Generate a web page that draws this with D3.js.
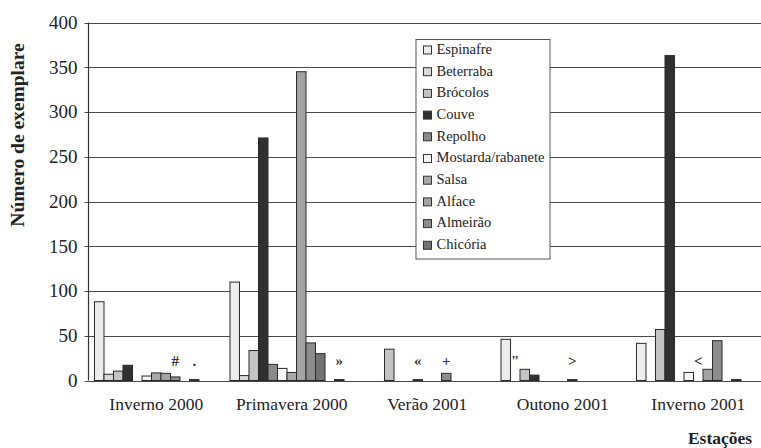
<!DOCTYPE html>
<html>
<head>
<meta charset="utf-8">
<script src="https://cdn.jsdelivr.net/npm/d3@7"></script>
<style>
  body { margin: 0; background: #fff; }
  svg { display: block; font-family: "Liberation Serif", "Times New Roman", serif; }
</style>
</head>
<body>
<div id="chart"></div>
<script>
// seasons on the x axis
const seasons = ["Inverno 2000", "Primavera 2000", "Verão 2001", "Outono 2001", "Inverno 2001"];

// legend names (the last three series in the plot have no legend entry)
const names = ["Espinafre", "Beterraba", "Brócolos", "Couve", "Repolho",
  "Mostarda/rabanete", "Salsa", "Alface", "Almeirão", "Chicória"];

// counts per season, one array per series
const espinafre = [88, 110, 0, 46, 41.5];
const beterraba = [7, 5.5, 0, 0, 0];
const brocolos  = [10.5, 33.5, 35, 12.5, 57];
const couve     = [17, 271, 0, 6, 363];
const repolho   = [0, 18, 0, 0, 0];
const mostarda  = [5, 13.5, 1, 0, 9];
const salsa     = [8.5, 9, 0, 0, 0];
const alface    = [8, 345, 0, 1, 12.5];
const almeirao  = [4, 42, 8, 0, 44.5];
const chicoria  = [0, 30, 0, 0, 0];
const extraA    = [1, 0, 0, 0, 1];
const extraB    = [0, 1, 0, 0, 0];
const extraC    = [0, 0, 0, 0, 0];

const colors = ["#ececec", "#d9d9d9", "#c4c4c4", "#303030", "#8a8a8a",
  "#f6f6f6", "#a8a8a8", "#a3a3a3", "#8c8c8c", "#737373", "#555", "#555", "#555"];

// symbols printed above some bars: [season index, series index, glyph]
const marks = [[0, 8, "#"], [0, 10, "."], [1, 11, "»"], [2, 5, "«"], [2, 8, "+"],
  [3, 1, "\""], [3, 7, ">"], [4, 6, "<"]];

const yTicks = [0, 50, 100, 150, 200, 250, 300, 350, 400];

const series = [espinafre, beterraba, brocolos, couve, repolho, mostarda,
  salsa, alface, almeirao, chicoria, extraA, extraB, extraC];

const width = 761, height = 448;
const margin = {top: 22.5, right: -5, bottom: 67.5, left: 88.5};

const svg = d3.select("#chart").append("svg")
  .attr("width", width)
  .attr("height", height);

const x0 = d3.scaleBand()
  .domain(seasons)
  .range([margin.left, width - margin.right]);

const x1 = d3.scaleBand()
  .domain(d3.range(series.length))
  .range([0, x0.bandwidth()])
  .paddingOuter(0.63);

const y = d3.scaleLinear()
  .domain([0, 400])
  .range([height - margin.bottom, margin.top]);

// gridlines + ticks
svg.append("g")
  .selectAll("line")
  .data(yTicks)
  .join("line")
  .attr("x1", margin.left - 4)
  .attr("x2", width)
  .attr("y1", d => Math.round(y(d)) + 0.5)
  .attr("y2", d => Math.round(y(d)) + 0.5)
  .attr("stroke", "#4a4a4a")
  .attr("stroke-width", 1.1);

svg.append("g")
  .attr("font-size", 19)
  .attr("fill", "#222")
  .selectAll("text")
  .data(yTicks)
  .join("text")
  .attr("x", margin.left - 11)
  .attr("y", d => y(d))
  .attr("dy", "0.33em")
  .attr("text-anchor", "end")
  .text(d => d);

// bars
const rows = [];
seasons.forEach((s, i) => {
  series.forEach((vals, j) => {
    if (vals[i] > 0) rows.push({season: s, k: j, value: vals[i]});
  });
});

svg.append("g")
  .attr("stroke", "#2a2a2a")
  .attr("stroke-width", 1)
  .selectAll("rect")
  .data(rows)
  .join("rect")
  .attr("x", d => x0(d.season) + x1(d.k))
  .attr("y", d => y(d.value))
  .attr("width", x1.bandwidth())
  .attr("height", d => y(0) - y(d.value))
  .attr("fill", d => colors[d.k]);

// y axis line
svg.append("line")
  .attr("x1", margin.left).attr("x2", margin.left)
  .attr("y1", y(400)).attr("y2", y(0))
  .attr("stroke", "#333").attr("stroke-width", 1.2);

// glyphs above bars
svg.append("g")
  .attr("font-size", 15)
  .attr("font-weight", "bold")
  .attr("fill", "#333")
  .attr("text-anchor", "middle")
  .selectAll("text")
  .data(marks)
  .join("text")
  .attr("x", d => x0(seasons[d[0]]) + x1(d[1]) + x1.bandwidth() / 2)
  .attr("y", y(0) - 15)
  .text(d => d[2]);

// season labels
svg.append("g")
  .attr("font-size", 17.5)
  .attr("fill", "#222")
  .attr("text-anchor", "middle")
  .selectAll("text")
  .data(seasons)
  .join("text")
  .attr("x", d => x0(d) + x0.bandwidth() / 2)
  .attr("y", 410)
  .text(d => d);

// axis titles
svg.append("text")
  .attr("transform", "translate(24,135) rotate(-90)")
  .attr("text-anchor", "middle")
  .attr("font-size", 19.5)
  .attr("font-weight", "bold")
  .attr("fill", "#222")
  .text("Número de exemplare");

svg.append("text")
  .attr("x", 720)
  .attr("y", 444)
  .attr("text-anchor", "middle")
  .attr("font-size", 17.5)
  .attr("font-weight", "bold")
  .attr("fill", "#222")
  .text("Estações");

// legend
const lg = svg.append("g").attr("transform", "translate(416,39.5)");
lg.append("rect")
  .attr("width", 134)
  .attr("height", 219.5)
  .attr("fill", "#fff")
  .attr("stroke", "#555");

const item = lg.selectAll("g")
  .data(names)
  .join("g")
  .attr("transform", (d, i) => `translate(7,${10 + i * 21.7})`);

item.append("rect")
  .attr("x", 0.5).attr("y", -3.5)
  .attr("width", 8).attr("height", 8)
  .attr("fill", (d, i) => colors[i])
  .attr("stroke", "#333");

item.append("text")
  .attr("x", 13.5)
  .attr("dy", "0.3em")
  .attr("font-size", 14.5)
  .attr("fill", "#222")
  .text(d => d);
</script>
</body>
</html>
